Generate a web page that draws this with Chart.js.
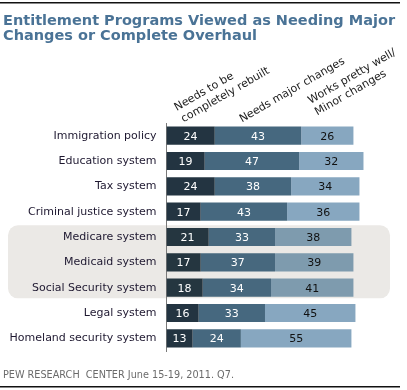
<!DOCTYPE html>
<html lang="en">
<head>
    <meta charset="UTF-8">
    <title>Entitlement Programs Viewed as Needing Major Changes or Complete Overhaul</title>
    <script src="https://cdn.jsdelivr.net/npm/chart.js"></script>
    <style>
        html, body {
            margin: 0;
            padding: 0;
            background: #fff;
        }
        canvas {
            display: block;
        }
    </style>
</head>
<body>
    <canvas id="chart" width="407" height="390"></canvas>

    <script>
        // data
        const categories = [
            'Immigration policy',
            'Education system',
            'Tax system',
            'Criminal justice system',
            'Medicare system',
            'Medicaid system',
            'Social Security system',
            'Legal system',
            'Homeland security system'
        ];
        const rebuilt = [24, 19, 24, 17, 21, 17, 18, 16, 13];
        const majorChanges = [43, 47, 38, 43, 33, 37, 34, 33, 24];
        const worksWell = [26, 32, 34, 36, 38, 39, 41, 45, 55];

        const seriesHeaders = [
            ['Needs to be', 'completely rebuilt'],
            ['Needs major changes'],
            ['Works pretty well/', 'Minor changes']
        ];
        const highlighted = ['Medicare system', 'Medicaid system', 'Social Security system'];

        const titleLines = ['Entitlement Programs Viewed as Needing Major', 'Changes or Complete Overhaul'];
        const sourceNote = 'PEW RESEARCH  CENTER June 15-19, 2011. Q7.';

        const FONT = '"DejaVu Sans", Verdana, sans-serif';
        const isHi = c => highlighted.includes(c);

        // gray rounded box behind the entitlement rows, plus the rules and title
        const backdrop = {
            id: 'backdrop',
            beforeDraw(chart) {
                const ctx = chart.ctx;
                const y = chart.scales.y;
                const step = y.getPixelForValue(1) - y.getPixelForValue(0);
                const first = categories.indexOf(highlighted[0]);
                const last = categories.indexOf(highlighted[highlighted.length - 1]);
                const top = y.getPixelForValue(first) - step / 2 + 1;
                const bottom = y.getPixelForValue(last) + step / 2 - 2;
                ctx.save();
                ctx.fillStyle = '#ebe9e6';
                ctx.beginPath();
                ctx.roundRect(8, top, 382, bottom - top, 10);
                ctx.fill();

                // top and bottom rules
                ctx.fillStyle = '#111';
                ctx.fillRect(0, 2, 400, 1.5);
                ctx.fillRect(0, 386, 400, 1.5);

                // title
                ctx.fillStyle = '#4a7396';
                ctx.textBaseline = 'alphabetic';
                ctx.textAlign = 'left';
                let size = 16;
                ctx.font = 'bold ' + size + 'px ' + FONT;
                while (ctx.measureText(titleLines[0]).width > 394 && size > 10) {
                    size -= 0.25;
                    ctx.font = 'bold ' + size + 'px ' + FONT;
                }
                ctx.fillText(titleLines[0], 3, 24.5);
                ctx.fillText(titleLines[1], 3, 39.5);

                // source
                ctx.fillStyle = '#6b6b6b';
                ctx.font = '9.7px ' + FONT;
                ctx.fillText(sourceNote, 3, 378);
                ctx.restore();
            }
        };

        // numbers inside the bars and the slanted column headers
        const labels = {
            id: 'labels',
            afterDatasetsDraw(chart) {
                const ctx = chart.ctx;
                ctx.save();
                ctx.font = '11px ' + FONT;
                ctx.textAlign = 'center';
                ctx.textBaseline = 'middle';
                chart.data.datasets.forEach((ds, i) => {
                    const meta = chart.getDatasetMeta(i);
                    meta.data.forEach((bar, j) => {
                        ctx.fillStyle = i < 2 ? '#ffffff' : '#111111';
                        ctx.fillText(ds.data[j], (bar.x + bar.base) / 2, bar.y + 1);
                    });
                });

                // headers, anchored on the first row's segments
                const shift = [-7, -16, -10];
                const lift = [4, 4, 11];
                ctx.fillStyle = '#222';
                ctx.textAlign = 'left';
                ctx.textBaseline = 'alphabetic';
                seriesHeaders.forEach((lines, i) => {
                    const bar = chart.getDatasetMeta(i).data[0];
                    const cx = (bar.x + bar.base) / 2 + shift[i];
                    const cy = bar.y - bar.height / 2 - lift[i];
                    ctx.save();
                    ctx.translate(cx, cy);
                    ctx.rotate(-Math.PI / 6);
                    lines.forEach((t, k) => {
                        ctx.fillText(t, 0, -(lines.length - 1 - k) * 13.5);
                    });
                    ctx.restore();
                });
                ctx.restore();
            }
        };

        new Chart(document.getElementById('chart'), {
            type: 'bar',
            data: {
                labels: categories,
                datasets: [
                    {
                        label: seriesHeaders[0].join(' '),
                        data: rebuilt,
                        backgroundColor: categories.map(c => isHi(c) ? '#253640' : '#233441')
                    },
                    {
                        label: seriesHeaders[1].join(' '),
                        data: majorChanges,
                        backgroundColor: categories.map(c => isHi(c) ? '#47687e' : '#46687f')
                    },
                    {
                        label: seriesHeaders[2].join(' '),
                        data: worksWell,
                        backgroundColor: categories.map(c => isHi(c) ? '#7e9bae' : '#87a7c0')
                    }
                ]
            },
            options: {
                indexAxis: 'y',
                responsive: false,
                animation: false,
                devicePixelRatio: 1,
                layout: {
                    padding: { left: 0, right: 39.5, top: 123, bottom: 39 }
                },
                datasets: {
                    bar: {
                        categoryPercentage: 1,
                        barPercentage: 0.715,
                        borderWidth: 0
                    }
                },
                scales: {
                    x: {
                        stacked: true,
                        min: 0,
                        max: 100,
                        display: false
                    },
                    y: {
                        stacked: true,
                        afterFit(scale) {
                            scale.width = 166.5;
                        },
                        grid: { display: false },
                        border: { display: true, color: '#7a7a7a', width: 1 },
                        ticks: {
                            color: '#1e1830',
                            padding: 2,
                            font: { family: FONT, size: 11 }
                        }
                    }
                },
                plugins: {
                    legend: { display: false },
                    tooltip: { enabled: false },
                    title: { display: false }
                }
            },
            plugins: [backdrop, labels]
        });
    </script>
</body>
</html>
